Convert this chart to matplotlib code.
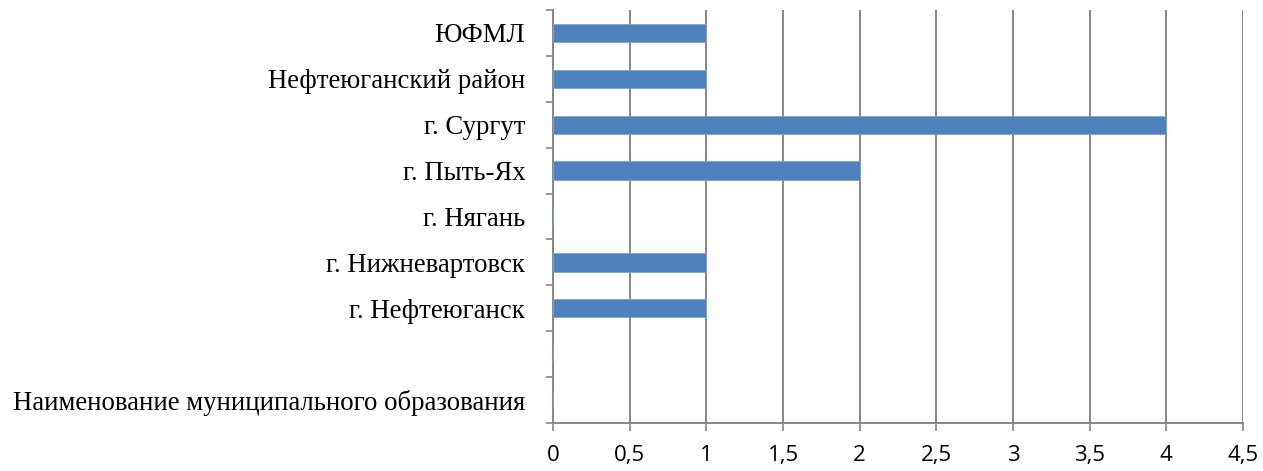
import matplotlib
matplotlib.use("Agg")
import matplotlib.pyplot as plt
from matplotlib.ticker import FuncFormatter, FixedLocator

categories = ["Наименование муниципального образования", "", "г. Нефтеюганск",
              "г. Нижневартовск", "г. Нягань", "г. Пыть-Ях", "г. Сургут",
              "Нефтеюганский район", "ЮФМЛ"]
values = [0, 0, 1, 1, 0, 2, 4, 1, 1]
x_ticks = [0, 0.5, 1, 1.5, 2, 2.5, 3, 3.5, 4, 4.5]

fig = plt.figure(figsize=(12.63, 4.71), dpi=100)
ax = fig.add_axes([553/1263, 1-423/471, (1243-553)/1263, (423-10)/471])

pos = list(range(len(categories)))
ax.barh(pos, values, height=0.4, color="#4F81BD", edgecolor="#7FA3D3", linewidth=0.6, zorder=3)
ax.set_ylim(-0.5, len(categories)-0.5)
ax.set_xlim(0, 4.5)

ax.set_xticks(x_ticks)
ax.xaxis.set_major_formatter(FuncFormatter(lambda v, p: ("%g" % v).replace(".", ",")))
ax.grid(axis="x", color="#868686", linewidth=1.4, zorder=0)
ax.set_axisbelow(True)

ax.set_yticks(pos)
ax.set_yticklabels(categories, fontfamily="Liberation Serif", fontsize=19.3)
ax.yaxis.set_minor_locator(FixedLocator([p - 0.5 for p in pos] + [len(categories)-0.5]))
ax.tick_params(axis="y", which="major", length=0, pad=20)
ax.tick_params(axis="y", which="minor", length=5, width=1.2, color="#868686", direction="out")
ax.tick_params(axis="x", length=6, width=1.2, color="#868686", pad=10, labelsize=16)
for lab in ax.get_xticklabels():
    lab.set_fontfamily("Open Sans")

for side in ["top", "right"]:
    ax.spines[side].set_visible(False)
for side in ["left", "bottom"]:
    ax.spines[side].set_color("#868686")
    ax.spines[side].set_linewidth(1.4)

fig.savefig("out.png", dpi=100)
